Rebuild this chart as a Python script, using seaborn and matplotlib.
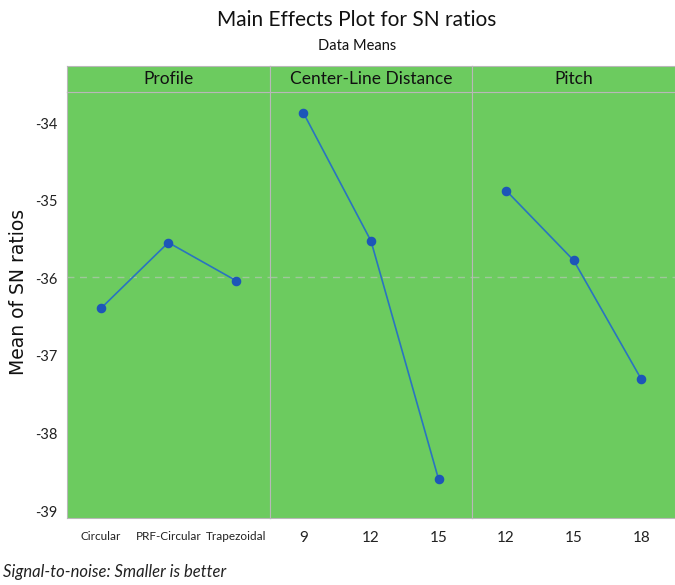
import matplotlib
matplotlib.use("Agg")
import matplotlib.pyplot as plt
import seaborn as sns

# Mean SN ratio per factor level
factors = ["Profile", "Center-Line Distance", "Pitch"]
profile_levels = ["Circular", "PRF-Circular", "Trapezoidal"]
profile_sn = [-36.39, -35.54, -36.03]
cld_levels = ["9", "12", "15"]
cld_sn = [-33.87, -35.52, -38.59]
pitch_levels = ["12", "15", "18"]
pitch_sn = [-34.87, -35.77, -37.30]
yticks = [-34, -35, -36, -37, -38, -39]

GREEN = "#6ccb5f"
BLUE = "#2a74c0"
DOT = "#1d56b8"
GREY = "#b8b8b8"
FONT = ["Lato", "DejaVu Sans"]

sns.set_style("white")
plt.rcParams["font.family"] = FONT

fig = plt.figure(figsize=(6.75, 5.85), dpi=100)
W, H = 675, 585
left, right = 67, 675
top_data, bottom_data, strip_top = 92, 518, 66
pw = (right - left) / 3

panels = [
    (profile_levels, profile_sn),
    (cld_levels, cld_sn),
    (pitch_levels, pitch_sn),
]
overall = sum(profile_sn) / len(profile_sn)

for i, (name, (levels, vals)) in enumerate(zip(factors, panels)):
    x0 = (left + i * pw) / W
    ax = fig.add_axes([x0, (H - bottom_data) / H, pw / W, (bottom_data - top_data) / H])
    ax.set_facecolor(GREEN)
    ax.axhline(overall, color="#9fc79a", lw=1.0, ls=(0, (5, 4)), zorder=1)
    sns.pointplot(x=levels, y=vals, ax=ax, color=BLUE, markers="o",
                  markersize=6, linewidth=1.2, zorder=3)
    for coll in ax.collections:
        coll.set_facecolor(DOT)
        coll.set_edgecolor(DOT)
    for ln in ax.lines:
        ln.set_markerfacecolor(DOT)
        ln.set_markeredgecolor(DOT)
    ax.set_xlim(-0.5, 2.5)
    ax.set_ylim(-39.09, -33.6)
    ax.set_yticks(yticks)
    ax.set_xlabel("")
    ax.set_ylabel("")
    for s in ax.spines.values():
        s.set_color(GREY)
        s.set_linewidth(0.8)
    ax.tick_params(axis="both", length=3, color=GREY, width=0.8,
                   colors="#222222", pad=6)
    if i == 0:
        ax.tick_params(axis="x", labelsize=8.5)
        ax.tick_params(axis="y", labelsize=10.5, pad=4)
        ax.set_yticklabels([str(t) for t in yticks])
    else:
        ax.tick_params(axis="x", labelsize=11)
        ax.tick_params(axis="y", left=False, labelleft=False)

    strip = fig.add_axes([x0, (H - top_data) / H, pw / W, (top_data - strip_top) / H])
    strip.set_facecolor(GREEN)
    strip.set_xticks([])
    strip.set_yticks([])
    for s in strip.spines.values():
        s.set_color(GREY)
        s.set_linewidth(0.8)
    strip.text(0.5, 0.5, name, ha="center", va="center", fontsize=12.5,
               transform=strip.transAxes, color="#111111")

fig.text(19 / W, 1 - 292 / H, "Mean of SN ratios", rotation=90, ha="center",
         va="center", fontsize=13.5, family="DejaVu Sans", color="#111111")
fig.text(357 / W, 1 - 20 / H, "Main Effects Plot for SN ratios", ha="center",
         va="center", fontsize=15, color="#111111")
fig.text(357 / W, 1 - 46 / H, "Data Means", ha="center", va="center",
         fontsize=10.5, color="#111111")
fig.text(3 / W, 1 - 572 / H, "Signal-to-noise: Smaller is better", ha="left",
         va="center", fontsize=12, style="italic", color="#222222")

fig.savefig("out.png", dpi=100)
